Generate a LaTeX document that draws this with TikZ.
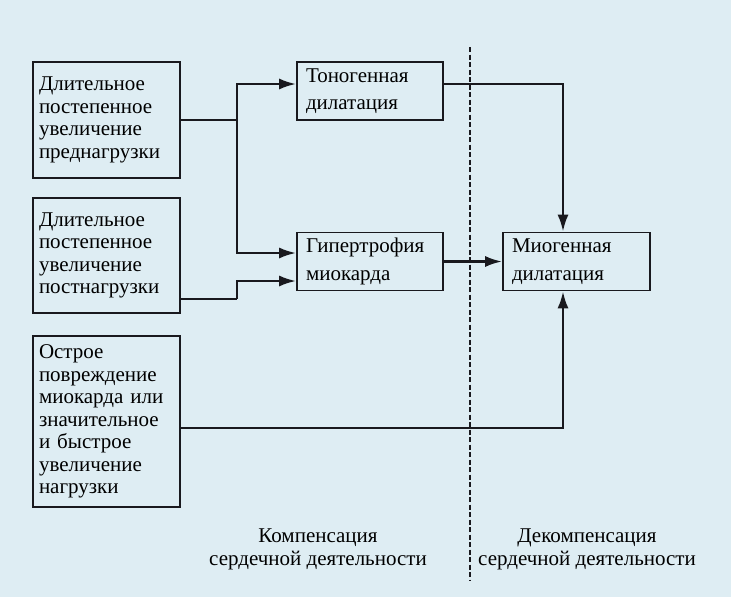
\documentclass[tikz,border=0pt]{standalone}
\usepackage{fontspec}
\setmainfont{Liberation Serif}
\usetikzlibrary{arrows.meta}
\definecolor{scanbg}{RGB}{222,237,243}
\definecolor{ink}{RGB}{25,25,30}
\begin{document}
\begin{tikzpicture}[x=1pt, y=-1pt,
  lbox/.style={draw=ink, line width=1.6pt, align=left, inner xsep=6pt,
    text width=135pt, font=\fontsize{21}{22.5}\selectfont},
  rbox/.style={draw=ink, line width=1.6pt, align=left, inner xsep=9pt,
    text width=128pt, minimum height=58pt, font=\fontsize{21}{27.5}\selectfont},
  link/.style={draw=ink, line width=2.6pt},
  arr/.style={link, -{Latex[length=17pt, width=11pt]}},
  border/.style={draw=ink, line width=2.6pt, dash pattern=on 5pt off 2.5pt},
  caption/.style={align=center, font=\fontsize{21}{23}\selectfont}]
  \fill[scanbg] (0, 0) rectangle (731, 597);
  \useasboundingbox (0, 0) rectangle (731, 597);

  \node[lbox, minimum height=116pt] (pre) at (106.5, 120)
    {Длительное\\постепенное\\увеличение\\преднагрузки};
  \node[lbox, minimum height=115pt] (post) at (106.5, 255.5)
    {Длительное\\постепенное\\увеличение\\постнагрузки};
  \node[lbox, minimum height=171pt] (acute) at (106.5, 421.5)
    {Острое\\повреждение\\миокарда или\\значительное\\и быстрое\\увеличение\\нагрузки};

  \node[rbox] (tono) at (370, 91) {Тоногенная\\дилатация};
  \node[rbox] (hyp) at (370, 261.5) {Гипертрофия\\миокарда};
  \node[rbox, text width=129pt] (mio) at (576.5, 261.5) {Миогенная\\дилатация};

  \coordinate (ja) at (237, 120);
  \coordinate (jb) at (237, 299);
  \coordinate (top) at (470, 47);
  \coordinate (bot) at (470, 580);

  \draw[link] (pre.east) -- (ja);
  \draw[arr] (ja) |- ([yshift=7pt]tono.west);
  \draw[arr] (ja) |- ([yshift=8.5pt]hyp.west);
  \draw[link] ([yshift=-43.5pt]post.east) -- (jb);
  \draw[arr] (jb) |- ([yshift=-19.5pt]hyp.west);

  \draw[border] (top) -- (bot);

  \draw[arr] ([yshift=7pt]tono.east) -| ([xshift=-13.5pt]mio.north);
  \draw[arr] (hyp.east) -- (mio.west);
  \draw[arr] ([yshift=-6.5pt]acute.east) -| ([xshift=-13.5pt]mio.south);

  \node[caption] (comp) at (318, 549) {Компенсация\\сердечной деятельности};
  \node[caption] (decomp) at (587, 549) {Декомпенсация\\сердечной деятельности};
\end{tikzpicture}
\end{document}
